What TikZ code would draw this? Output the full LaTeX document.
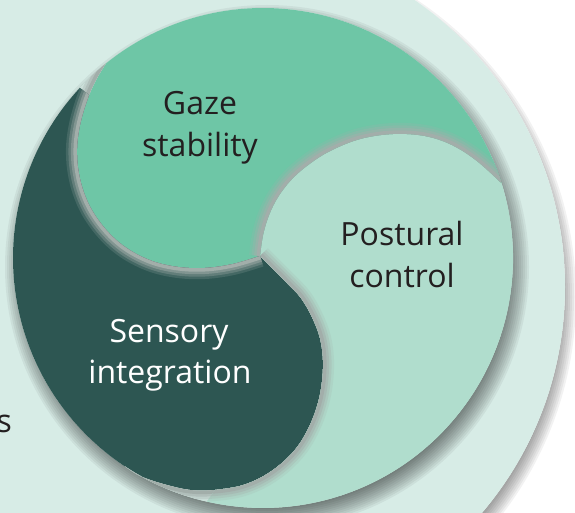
\documentclass[tikz,border=0pt]{standalone}
\usepackage{fontspec}
\setmainfont{Open Sans}
\usetikzlibrary{calc}
\definecolor{pale}{HTML}{D7ECE6}
\definecolor{gazec}{HTML}{6EC6A6}
\definecolor{postc}{HTML}{B0DDCD}
\definecolor{sensc}{HTML}{2D5652}
\definecolor{shad}{HTML}{A2AEAA}
\definecolor{ink}{HTML}{231F20}
\tikzset{
  lab/.style={font=\fontsize{32}{38}\selectfont, text=ink, inner sep=0pt},
  band/.style={line width=7pt, draw=shad,
    preaction={draw=shad!20!#1, line width=22pt},
    preaction={draw=shad!45!#1, line width=17pt},
    preaction={draw=shad!72!#1, line width=12pt}},
  softshade/.style={fill=black, fill opacity=#1},
}
\def\EdgePost{plot[smooth,tension=.6] coordinates {(J) (263,235) (269,215) (278,197) (291,180) (308,165) (330,151) (360,139) (393,134) (425,136) (452,145) (477,161) (P1)}}
\def\EdgeGaze{plot[smooth,tension=.6] coordinates {(G1) (97,78) (89,95) (83,113) (79,130) (77,148) (78,168) (83,190) (93,212) (109,233) (128,249) (152,261) (178,267) (205,268) (233,264) (J)}}
\def\EdgeGazeB{plot[smooth,tension=.6] coordinates {(89,95) (83,113) (79,130) (77,148) (78,168) (83,190) (93,212) (109,233) (128,249) (152,261) (178,267) (205,268) (233,264) (J)}}
\def\EdgeSens{plot[smooth,tension=.6] coordinates {(J) (272,268) (287,283) (301,298) (312,317) (320,338) (323,360) (322,382) (318,403) (310,425) (298,446) (282,463) (262,477) (240,486) (215,490) (190,490) (163,484) (140,476) (Q)}}
\def\EdgeSensB{plot[smooth,tension=.6] coordinates {(215,490) (240,486) (262,477) (282,463) (298,446) (310,425) (318,403) (322,382) (323,360) (320,338) (312,317) (301,298) (287,283) (272,268) (J)}}
\edef\GazeShape{\EdgePost arc[start angle=-17.4, end angle=-129, radius=250] -- \EdgeGaze -- cycle}
\edef\PostShape{\EdgePost arc[start angle=-17.4, end angle=103, radius=250] -- \EdgeSensB -- cycle}
\edef\SensShape{\EdgeSens arc[start angle=123.5, end angle=222.9, radius=250] -- \EdgeGazeB -- cycle}
\begin{document}
\begin{tikzpicture}[x=1pt,y=-1pt]
\useasboundingbox (0,0) rectangle (575,513);
\clip (0,0) rectangle (575,513);
\fill[white] (0,0) rectangle (575,513);
% key points
\coordinate (D) at (216,287);
\coordinate (C) at (263,258);
\coordinate (J) at (260,256);
\coordinate (P1) at ($(C)+(-17.4:250)$);
\coordinate (P2) at ($(C)+(-137.1:250)$);
\coordinate (P3) at ($(C)+(103:250)$);
\coordinate (Q) at ($(C)+(123.5:250)$);
\coordinate (G1) at ($(C)+(-129:250)$);
% big pale disc and its soft shadow
\begin{scope}[even odd rule]
  \clip (0,0) rectangle (575,513) (D) circle[radius=349];
  \foreach \r in {341,343,...,357}
    \fill[softshade=0.05] ($(D)+(3,10)$) circle[radius=\r];
\end{scope}
\fill[pale] (D) circle[radius=349];
\fill[pale] (0,0) rectangle (300,513);
% soft shadow of the three lobes
\begin{scope}[even odd rule]
  \clip (0,0) rectangle (575,513) (C) circle[radius=250];
  \foreach \r in {240,242,...,262}
    \fill[softshade=0.05] ($(C)+(4,9)$) circle[radius=\r];
\end{scope}
% lobes
\fill[gazec] \GazeShape;
\fill[postc] \PostShape;
\fill[sensc] \SensShape;
% shadow bands
\begin{scope}[even odd rule]
  \clip (C) circle[radius=250] \SensShape \GazeShape \PostShape;
  \draw[band=pale] \EdgeSens;
  \draw[band=pale] \EdgeGaze;
\end{scope}
\begin{scope}
  \clip \PostShape;
  \draw[band=postc] \EdgeSens;
\end{scope}
\begin{scope}
  \clip \SensShape;
  \draw[band=sensc] \EdgeGaze;
\end{scope}
\begin{scope}
  \clip \GazeShape;
  \draw[band=gazec] \EdgePost;
\end{scope}
% labels
\node[lab, anchor=base] (gz1) at (200,115) {Gaze};
\node[lab, anchor=base] (gz2) at (200,157) {stability};
\node[lab, anchor=base] (pc1) at (402,245) {Postural};
\node[lab, anchor=base] (pc2) at (402,287) {control};
\node[lab, anchor=base, text=white] (si1) at (169,342) {Sensory};
\node[lab, anchor=base, text=white] (si2) at (170,383) {integration};
\node[lab, anchor=base east] (cut) at (12,432) {s};
\end{tikzpicture}
\end{document}
